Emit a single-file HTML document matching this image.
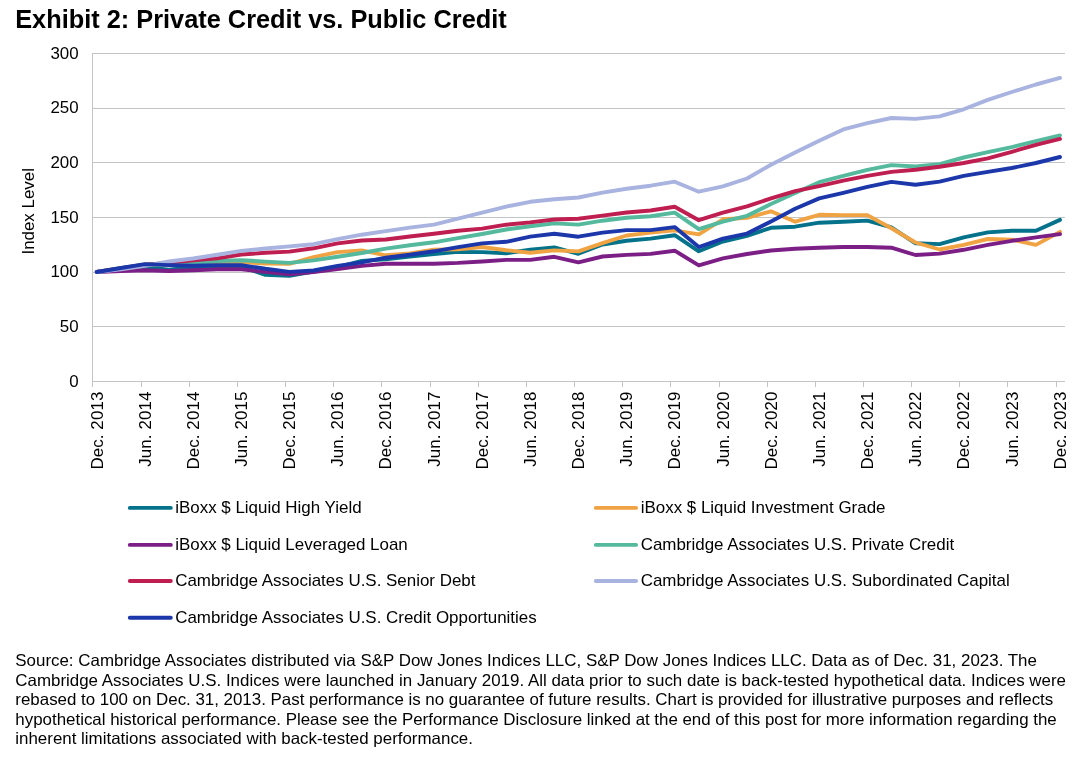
<!DOCTYPE html>
<html><head><meta charset="utf-8"><title>Exhibit 2: Private Credit vs. Public Credit</title>
<style>
html,body{margin:0;padding:0;background:#fff;}
body{width:1081px;height:763px;overflow:hidden;position:relative;font-family:"Liberation Sans",Arial,sans-serif;color:#000;}
svg{position:absolute;left:0;top:0;}
svg text{font-family:"Liberation Sans",Arial,sans-serif;font-size:16.9px;fill:#000;}
.title{position:absolute;left:15.2px;top:5px;font-weight:bold;font-size:25.35px;line-height:29px;white-space:nowrap;}
.src{position:absolute;left:15.3px;top:651.4px;font-size:16.92px;line-height:19.5px;white-space:nowrap;}
.ln{fill:none;stroke-width:3.9;stroke-linejoin:round;stroke-linecap:round;}
.g{stroke:#c2c5c5;stroke-width:1;fill:none;shape-rendering:crispEdges;}
</style></head><body>
<div class="title">Exhibit 2: Private Credit vs. Public Credit</div>
<svg width="1081" height="763" viewBox="0 0 1081 763">
<path class="g" d="M92.5 326.5H1064.5"/>
<path class="g" d="M92.5 272.5H1064.5"/>
<path class="g" d="M92.5 217.5H1064.5"/>
<path class="g" d="M92.5 162.5H1064.5"/>
<path class="g" d="M92.5 108.5H1064.5"/>
<path class="g" d="M92.5 53.5H1064.5"/>
<path class="g" d="M92.5 53V386.5"/>
<path class="g" d="M92 381.5H1064.5"/>
<path class="g" d="M141.5 382v4.5M189.5 382v4.5M237.5 382v4.5M285.5 382v4.5M333.5 382v4.5M381.5 382v4.5M430.5 382v4.5M478.5 382v4.5M526.5 382v4.5M574.5 382v4.5M622.5 382v4.5M670.5 382v4.5M719.5 382v4.5M767.5 382v4.5M815.5 382v4.5M863.5 382v4.5M911.5 382v4.5M959.5 382v4.5M1007.5 382v4.5M1056.5 382v4.5"/>
<text x="78.6" y="387" text-anchor="end">0</text>
<text x="78.6" y="332" text-anchor="end">50</text>
<text x="78.6" y="277" text-anchor="end">100</text>
<text x="78.6" y="223" text-anchor="end">150</text>
<text x="78.6" y="168" text-anchor="end">200</text>
<text x="78.6" y="113" text-anchor="end">250</text>
<text x="78.6" y="59" text-anchor="end">300</text>
<text transform="translate(34.3 211.3) rotate(-90)" text-anchor="middle">Index Level</text>
<text transform="translate(102.50 391.6) rotate(-90)" text-anchor="end" letter-spacing="0.11">Dec. 2013</text>
<text transform="translate(150.66 391.6) rotate(-90)" text-anchor="end" letter-spacing="0.11">Jun. 2014</text>
<text transform="translate(198.82 391.6) rotate(-90)" text-anchor="end" letter-spacing="0.11">Dec. 2014</text>
<text transform="translate(246.98 391.6) rotate(-90)" text-anchor="end" letter-spacing="0.11">Jun. 2015</text>
<text transform="translate(295.14 391.6) rotate(-90)" text-anchor="end" letter-spacing="0.11">Dec. 2015</text>
<text transform="translate(343.30 391.6) rotate(-90)" text-anchor="end" letter-spacing="0.11">Jun. 2016</text>
<text transform="translate(391.46 391.6) rotate(-90)" text-anchor="end" letter-spacing="0.11">Dec. 2016</text>
<text transform="translate(439.62 391.6) rotate(-90)" text-anchor="end" letter-spacing="0.11">Jun. 2017</text>
<text transform="translate(487.78 391.6) rotate(-90)" text-anchor="end" letter-spacing="0.11">Dec. 2017</text>
<text transform="translate(535.94 391.6) rotate(-90)" text-anchor="end" letter-spacing="0.11">Jun. 2018</text>
<text transform="translate(584.10 391.6) rotate(-90)" text-anchor="end" letter-spacing="0.11">Dec. 2018</text>
<text transform="translate(632.26 391.6) rotate(-90)" text-anchor="end" letter-spacing="0.11">Jun. 2019</text>
<text transform="translate(680.42 391.6) rotate(-90)" text-anchor="end" letter-spacing="0.11">Dec. 2019</text>
<text transform="translate(728.58 391.6) rotate(-90)" text-anchor="end" letter-spacing="0.11">Jun. 2020</text>
<text transform="translate(776.74 391.6) rotate(-90)" text-anchor="end" letter-spacing="0.11">Dec. 2020</text>
<text transform="translate(824.90 391.6) rotate(-90)" text-anchor="end" letter-spacing="0.11">Jun. 2021</text>
<text transform="translate(873.06 391.6) rotate(-90)" text-anchor="end" letter-spacing="0.11">Dec. 2021</text>
<text transform="translate(921.22 391.6) rotate(-90)" text-anchor="end" letter-spacing="0.11">Jun. 2022</text>
<text transform="translate(969.38 391.6) rotate(-90)" text-anchor="end" letter-spacing="0.11">Dec. 2022</text>
<text transform="translate(1017.54 391.6) rotate(-90)" text-anchor="end" letter-spacing="0.11">Jun. 2023</text>
<text transform="translate(1065.70 391.6) rotate(-90)" text-anchor="end" letter-spacing="0.11">Dec. 2023</text>
<polyline class="ln" stroke="#04728a" points="96.8,272.0 120.9,269.3 145.0,267.3 169.0,269.8 193.1,267.1 217.2,266.6 241.3,266.6 265.4,274.9 289.4,275.9 313.5,271.7 337.6,267.1 361.7,260.9 385.8,259.2 409.8,256.6 433.9,254.0 458.0,251.9 482.1,252.1 506.2,253.2 530.2,249.8 554.3,247.4 578.4,253.8 602.5,244.5 626.6,240.8 650.6,238.6 674.7,235.2 698.8,251.3 722.9,241.5 747.0,235.8 771.0,227.8 795.1,226.7 819.2,222.7 843.3,221.7 867.4,220.6 891.4,227.4 915.5,243.3 939.6,244.1 963.7,237.4 987.8,232.4 1011.8,230.7 1035.9,230.7 1060.0,219.9"/>
<polyline class="ln" stroke="#f0a343" points="96.8,272.0 120.9,268.1 145.0,264.4 169.0,264.6 193.1,264.4 217.2,262.2 241.3,261.9 265.4,263.6 289.4,263.8 313.5,257.1 337.6,252.1 361.7,250.4 385.8,255.3 409.8,253.5 433.9,249.7 458.0,249.3 482.1,247.0 506.2,250.2 530.2,252.8 554.3,250.4 578.4,251.4 602.5,243.2 626.6,235.5 650.6,232.6 674.7,230.3 698.8,234.4 722.9,219.3 747.0,217.9 771.0,211.3 795.1,221.7 819.2,214.8 843.3,215.1 867.4,215.1 891.4,228.2 915.5,242.5 939.6,249.5 963.7,244.9 987.8,239.0 1011.8,239.6 1035.9,244.9 1060.0,231.9"/>
<polyline class="ln" stroke="#7b1e85" points="96.8,272.0 120.9,271.0 145.0,270.3 169.0,271.0 193.1,270.3 217.2,269.3 241.3,269.3 265.4,271.9 289.4,274.2 313.5,272.0 337.6,269.0 361.7,265.9 385.8,263.7 409.8,263.7 433.9,263.7 458.0,262.9 482.1,261.5 506.2,259.9 530.2,259.9 554.3,256.8 578.4,262.4 602.5,256.5 626.6,254.9 650.6,253.9 674.7,250.7 698.8,265.3 722.9,258.4 747.0,254.0 771.0,250.5 795.1,248.8 819.2,247.7 843.3,247.0 867.4,247.0 891.4,247.7 915.5,255.0 939.6,253.6 963.7,249.8 987.8,244.9 1011.8,240.8 1035.9,237.4 1060.0,234.1"/>
<polyline class="ln" stroke="#54b99d" points="96.8,272.0 120.9,268.2 145.0,264.8 169.0,264.2 193.1,263.6 217.2,261.0 241.3,260.2 265.4,261.6 289.4,262.9 313.5,260.4 337.6,256.8 361.7,253.0 385.8,248.6 409.8,245.3 433.9,242.3 458.0,238.2 482.1,234.0 506.2,229.5 530.2,226.2 554.3,223.4 578.4,224.6 602.5,220.7 626.6,217.7 650.6,216.3 674.7,212.6 698.8,229.2 722.9,221.7 747.0,215.8 771.0,204.1 795.1,193.1 819.2,182.2 843.3,175.9 867.4,169.9 891.4,165.1 915.5,166.5 939.6,164.1 963.7,157.5 987.8,152.1 1011.8,147.1 1035.9,141.1 1060.0,135.4"/>
<polyline class="ln" stroke="#bf1e50" points="96.8,272.0 120.9,268.4 145.0,264.9 169.0,262.6 193.1,260.4 217.2,258.4 241.3,254.5 265.4,252.8 289.4,251.6 313.5,248.3 337.6,243.4 361.7,240.5 385.8,239.5 409.8,236.5 433.9,233.8 458.0,230.8 482.1,228.6 506.2,224.7 530.2,222.4 554.3,219.5 578.4,218.8 602.5,215.6 626.6,212.5 650.6,210.5 674.7,206.8 698.8,220.2 722.9,212.7 747.0,206.4 771.0,198.4 795.1,191.2 819.2,186.1 843.3,180.6 867.4,175.9 891.4,171.9 915.5,169.8 939.6,166.7 963.7,163.0 987.8,158.4 1011.8,151.8 1035.9,144.8 1060.0,138.9"/>
<polyline class="ln" stroke="#a8b3e0" points="96.8,272.0 120.9,269.3 145.0,265.9 169.0,261.5 193.1,258.5 217.2,254.8 241.3,250.9 265.4,248.5 289.4,246.4 313.5,244.2 337.6,239.1 361.7,234.7 385.8,231.1 409.8,227.6 433.9,224.6 458.0,218.7 482.1,212.7 506.2,206.6 530.2,201.8 554.3,199.3 578.4,197.5 602.5,192.6 626.6,188.8 650.6,185.7 674.7,181.7 698.8,191.7 722.9,186.3 747.0,178.5 771.0,164.7 795.1,152.6 819.2,140.7 843.3,129.4 867.4,123.1 891.4,118.0 915.5,118.9 939.6,116.4 963.7,109.3 987.8,99.9 1011.8,92.0 1035.9,84.5 1060.0,77.9"/>
<polyline class="ln" stroke="#1c37aa" points="96.8,272.0 120.9,268.0 145.0,264.1 169.0,265.1 193.1,265.8 217.2,265.1 241.3,265.1 265.4,268.8 289.4,271.9 313.5,270.5 337.6,265.9 361.7,262.4 385.8,257.7 409.8,254.7 433.9,251.3 458.0,247.2 482.1,243.4 506.2,241.8 530.2,236.6 554.3,233.7 578.4,236.7 602.5,232.6 626.6,230.1 650.6,230.1 674.7,227.1 698.8,247.1 722.9,238.6 747.0,233.6 771.0,221.4 795.1,208.7 819.2,198.4 843.3,192.8 867.4,186.8 891.4,181.9 915.5,184.8 939.6,181.6 963.7,175.8 987.8,171.9 1011.8,168.0 1035.9,163.0 1060.0,157.0"/>
<path class="ln" stroke="#04728a" d="M129.8 507.9h41.0"/>
<text x="175.2" y="512.9" style="font-size:16.96px">iBoxx $ Liquid High Yield</text>
<path class="ln" stroke="#f0a343" d="M595.8 507.9h40.3"/>
<text x="640.7" y="512.9" style="font-size:16.96px">iBoxx $ Liquid Investment Grade</text>
<path class="ln" stroke="#7b1e85" d="M129.8 544.9h41.0"/>
<text x="175.2" y="549.9" style="font-size:16.96px">iBoxx $ Liquid Leveraged Loan</text>
<path class="ln" stroke="#54b99d" d="M595.8 544.9h40.3"/>
<text x="640.7" y="549.9" style="font-size:16.96px">Cambridge Associates U.S. Private Credit</text>
<path class="ln" stroke="#bf1e50" d="M129.8 581.0h41.0"/>
<text x="175.2" y="586.0" style="font-size:16.96px">Cambridge Associates U.S. Senior Debt</text>
<path class="ln" stroke="#a8b3e0" d="M595.8 581.0h40.3"/>
<text x="640.7" y="586.0" style="font-size:16.96px">Cambridge Associates U.S. Subordinated Capital</text>
<path class="ln" stroke="#1c37aa" d="M129.8 617.8h41.0"/>
<text x="175.2" y="622.8" style="font-size:16.96px">Cambridge Associates U.S. Credit Opportunities</text>
</svg>
<div class="src"><span style="word-spacing:0.05px">Source: Cambridge Associates distributed via S&amp;P Dow Jones Indices LLC, S&amp;P Dow Jones Indices LLC. Data as of Dec. 31, 2023. The</span><br><span style="word-spacing:0.05px">Cambridge Associates U.S. Indices were launched in January 2019. All data prior to such date is back-tested hypothetical data. Indices were</span><br><span style="word-spacing:-0.065px">rebased to 100 on Dec. 31, 2013. Past performance is no guarantee of future results. Chart is provided for illustrative purposes and reflects</span><br><span style="word-spacing:-0.09px">hypothetical historical performance. Please see the Performance Disclosure linked at the end of this post for more information regarding the</span><br>inherent limitations associated with back-tested performance.</div>
</body></html>
